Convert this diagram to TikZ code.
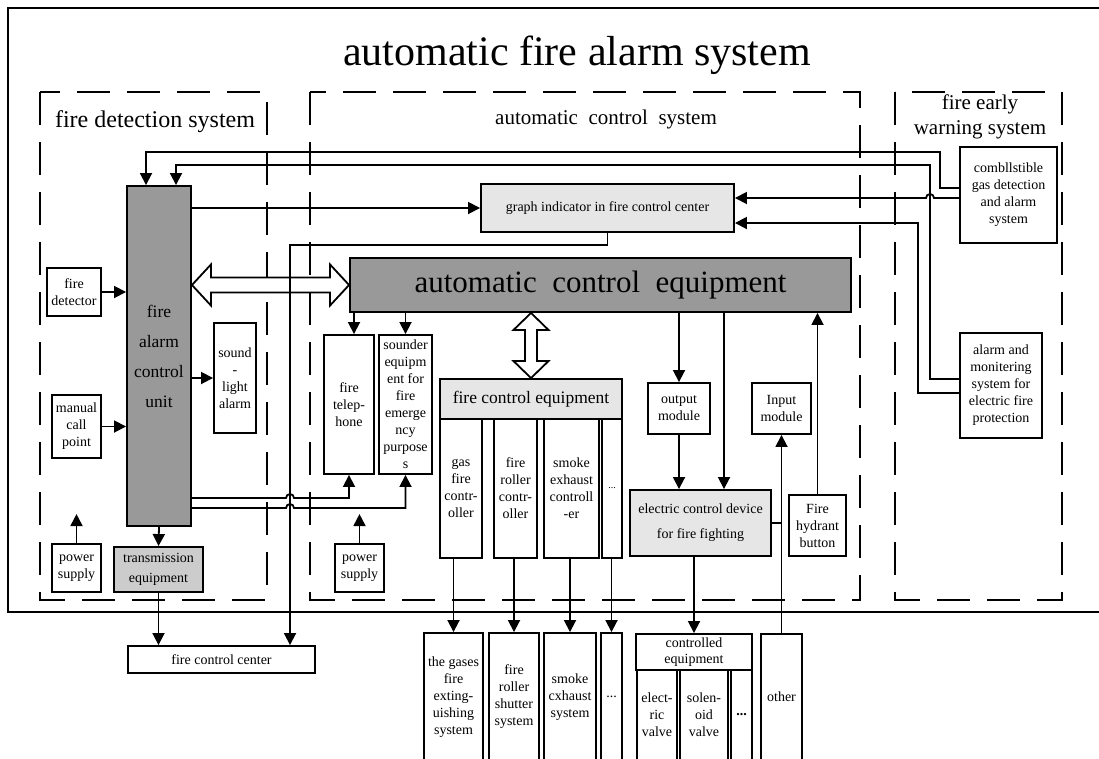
\documentclass[tikz,border=0pt]{standalone}
\usepackage{fontspec}
\setmainfont{Liberation Serif}
\usetikzlibrary{arrows.meta,calc}
\definecolor{dk}{HTML}{999999}
\definecolor{md}{HTML}{CCCCCC}
\definecolor{lt}{HTML}{E6E6E6}
\begin{document}
\begin{tikzpicture}[x=1pt,y=-1pt,
  bx/.style={draw, line width=1.9pt, fill=white, align=center, inner sep=0pt, font=\fontsize{14}{17}\selectfont},
  arr/.style={line width=1.8pt, -{Triangle[length=12pt,width=12pt]}},
  conn/.style={line width=1.8pt},
  grp/.style={line width=1.9pt, dash pattern=on 33pt off 17pt},
  hollow/.style={draw, line width=1.8pt, fill=white, line join=miter},
  lbl/.style={anchor=base, inner sep=0pt, align=center}]

\useasboundingbox (0,0) rectangle (1099,758);
\clip (0,0) rectangle (1099,758);
\fill[white] (0,0) rectangle (1099,758);

% groups
\draw[grp] (40,92) rectangle (267,600);
\draw[grp] (310,92) rectangle (860,600);
\draw[grp] (895,92) rectangle (1062,600);
\draw[line width=1.9pt] (1110,8) -| (8,612) -- (1110,612);

% labels
\node[lbl, font=\fontsize{42}{50}\selectfont] (title) at (577,65) {automatic fire alarm system};
\node[lbl, font=\fontsize{24}{28}\selectfont] (ldet) at (155,127) {fire detection system};
\node[lbl, font=\fontsize{21}{25}\selectfont] (lctl) at (606,124) {automatic\ \ control\ \ system};
\node[inner sep=0pt, align=center, font=\fontsize{21}{25}\selectfont] (lwarn) at (980,117) {fire early\\warning system};

% nodes
\node[bx, fill=dk, minimum width=64, minimum height=340, font=\fontsize{17.5}{30}\selectfont] (facu) at (159,356) {fire\\alarm\\control\\unit};
\node[bx, minimum width=54, minimum height=48] (fd) at (74,292) {fire\\detector};
\node[bx, minimum width=49, minimum height=63] (mcp) at (76.5,426.5) {manual\\call\\point};
\node[bx, minimum width=49, minimum height=48] (psL) at (76.5,568) {power\\supply};
\node[bx, fill=md, minimum width=89, minimum height=45, font=\fontsize{14}{20}\selectfont] (trans) at (158.5,569.5) {transmission\\equipment};
\node[bx, minimum width=42, minimum height=110] (sla) at (235,378) {sound\\-\\light\\alarm};
\node[bx, minimum width=187, minimum height=27] (fcc) at (221.5,659.5) {fire control center};
\node[bx, fill=lt, minimum width=253, minimum height=48] (graph) at (607.5,208) {graph indicator in fire control center};
\node[bx, fill=dk, minimum width=501, minimum height=54, font=\fontsize{31}{36}\selectfont] (ace) at (600.5,285) {automatic\ \ control\ \ equipment};
\node[bx, minimum width=50, minimum height=139] (ftel) at (349,404.5) {fire\\telep-\\hone};
\node[bx, minimum width=53, minimum height=139] (snd) at (405.5,404.5) {sounder\\equipm\\ent for\\fire\\emerge\\ncy\\purpose\\s};
\node[bx, minimum width=49, minimum height=48] (psM) at (359.5,568) {power\\supply};
\node[bx, fill=lt, minimum width=182, minimum height=40, font=\fontsize{17.5}{21}\selectfont] (fce) at (531,399) {fire control equipment};
\node[bx, minimum width=42, minimum height=139] (gfc) at (461,488.5) {gas\\fire\\contr-\\oller};
\node[bx, minimum width=43, minimum height=139] (frc) at (515.5,488.5) {fire\\roller\\contr-\\oller};
\node[bx, minimum width=55, minimum height=139] (sec) at (571.5,488.5) {smoke\\exhaust\\controll\\-er};
\node[bx, minimum width=20, minimum height=139, font=\fontsize{10}{12}\selectfont] (dc1) at (612,488.5) {...};
\node[bx, minimum width=59, minimum height=128] (gfe) at (453.5,697) {the gases\\fire\\exting-\\uishing\\system};
\node[bx, minimum width=50, minimum height=128] (frs) at (514,697) {fire\\roller\\shutter\\system};
\node[bx, minimum width=52, minimum height=128] (sce) at (570,697) {smoke\\cxhaust\\system};
\node[bx, minimum width=21, minimum height=128] (dc2) at (611.5,697) {...};
\node[bx, minimum width=116, minimum height=36, font=\fontsize{14}{16}\selectfont] (ctrl) at (694,652) {controlled\\equipment};
\node[bx, minimum width=40, minimum height=90] (ev) at (657,715) {elect-\\ric\\valve};
\node[bx, minimum width=48, minimum height=90] (sv) at (704,715) {solen-\\oid\\valve};
\node[bx, minimum width=21, minimum height=90, font=\fontsize{14}{17}\bfseries] (dc3) at (741.5,715) {...};
\node[bx, minimum width=41, minimum height=126] (other) at (781.5,697) {other};
\node[bx, minimum width=62, minimum height=51] (outm) at (679,408.5) {output\\module};
\node[bx, minimum width=59, minimum height=51] (inm) at (781.5,408.5) {Input\\module};
\node[bx, fill=lt, minimum width=141, minimum height=66, font=\fontsize{14}{25}\selectfont] (ecd) at (700.5,523) {electric control device\\for fire fighting};
\node[bx, minimum width=57, minimum height=61] (fhb) at (817.5,525.5) {Fire\\hydrant\\button};
\node[bx, minimum width=97, minimum height=96] (comb) at (1008.5,195) {combllstible\\gas detection\\and alarm\\system};
\node[bx, minimum width=82, minimum height=105] (amon) at (1001,385.5) {alarm and\\monitering\\system for\\electric fire\\protection};

% hollow double arrows
\coordinate (hl) at (facu.east |- ace.west);
\coordinate (hr) at (ace.west);
\draw[hollow] (hl) -- ($(hl)+(19,-20.5)$) -- ($(hl)+(19,-7.5)$) -- ($(hr)+(-19,-7.5)$) -- ($(hr)+(-19,-20.5)$) -- (hr)
  -- ($(hr)+(-19,20.5)$) -- ($(hr)+(-19,7.5)$) -- ($(hl)+(19,7.5)$) -- ($(hl)+(19,20.5)$) -- cycle;
\coordinate (vt) at (fce.north |- ace.south);
\coordinate (vb) at (fce.north);
\draw[hollow] (vt) -- ($(vt)+(17.5,17)$) -- ($(vt)+(6,17)$) -- ($(vb)+(6,-17)$) -- ($(vb)+(17.5,-17)$) -- (vb)
  -- ($(vb)+(-17.5,-17)$) -- ($(vb)+(-6,-17)$) -- ($(vt)+(-6,17)$) -- ($(vt)+(-17.5,17)$) -- cycle;

% connectors: detection side
\draw[arr] (fd.east) -- (fd.east -| facu.west);
\draw[arr] (mcp.east) -- (mcp.east -| facu.west);
\draw[arr] (sla.west -| facu.east) -- (sla.west);
\draw[arr] (psL.north) -- ++(0,-29);
\draw[arr] (facu.south) -- (trans.north);
\draw[arr] (trans.south) -- (trans.south |- fcc.north);
\draw[arr] (graph.west -| facu.east) -- (graph.west);

% top loops from early warning
\draw[arr] ($(comb.west)+(0,-7)$) -| (940,152) -| ($(facu.north)+(-13,0)$);
\draw[arr] ($(amon.west)+(0,-6.5)$) -| (930,165) -| ($(facu.north)+(17,0)$);
\draw[arr] ($(comb.west)+(0,3)$) -- (934,198) arc[start angle=0,end angle=180,radius=4pt] -- ($(graph.east)+(0,-10)$);
\draw[arr] ($(amon.west)+(0,7.5)$) -| (918,223) -- ($(graph.east)+(0,15)$);

% facu to telephone / sounder with hops
\draw[arr] ($(facu.east)+(0,142)$) -- (286,498) arc[start angle=180,end angle=0,radius=4pt] -| (ftel.south);
\draw[arr] ($(facu.east)+(0,152)$) -- (286,508) arc[start angle=180,end angle=0,radius=4pt] -| (snd.south);

% graph indicator to fire control center
\draw[arr] (graph.south) |- (290,245) -- ($(fcc.north)+(68.5,0)$);

% control equipment
\coordinate (ft1) at ($(ftel.north)+(5,0)$);
\draw[arr] (ft1 |- ace.south) -- (ft1);
\draw[arr] (snd.north |- ace.south) -- (snd.north);
\draw[arr] (psM.north) -- ++(0,-29);
\draw[arr] (outm.north |- ace.south) -- (outm.north);
\draw[arr] (outm.south) -- (outm.south |- ecd.north);
\coordinate (ec1) at ($(ace.south)+(123.5,0)$);
\draw[arr] (ec1) -- (ec1 |- ecd.north);
\draw[arr] (fhb.north) -- (fhb.north |- ace.south);
\draw[arr] (other.north) -- (other.north |- inm.south);
\draw[conn] (ecd.east) -- (ecd.east -| other.north);
\draw[arr] (ctrl.north |- ecd.south) -- (ctrl.north);
\draw[arr] (gfe.north |- gfc.south) -- (gfe.north);
\draw[arr] (frs.north |- frc.south) -- (frs.north);
\draw[arr] (sce.north |- sec.south) -- (sce.north);
\draw[arr] (dc2.north |- dc1.south) -- (dc2.north);
\end{tikzpicture}
\end{document}
